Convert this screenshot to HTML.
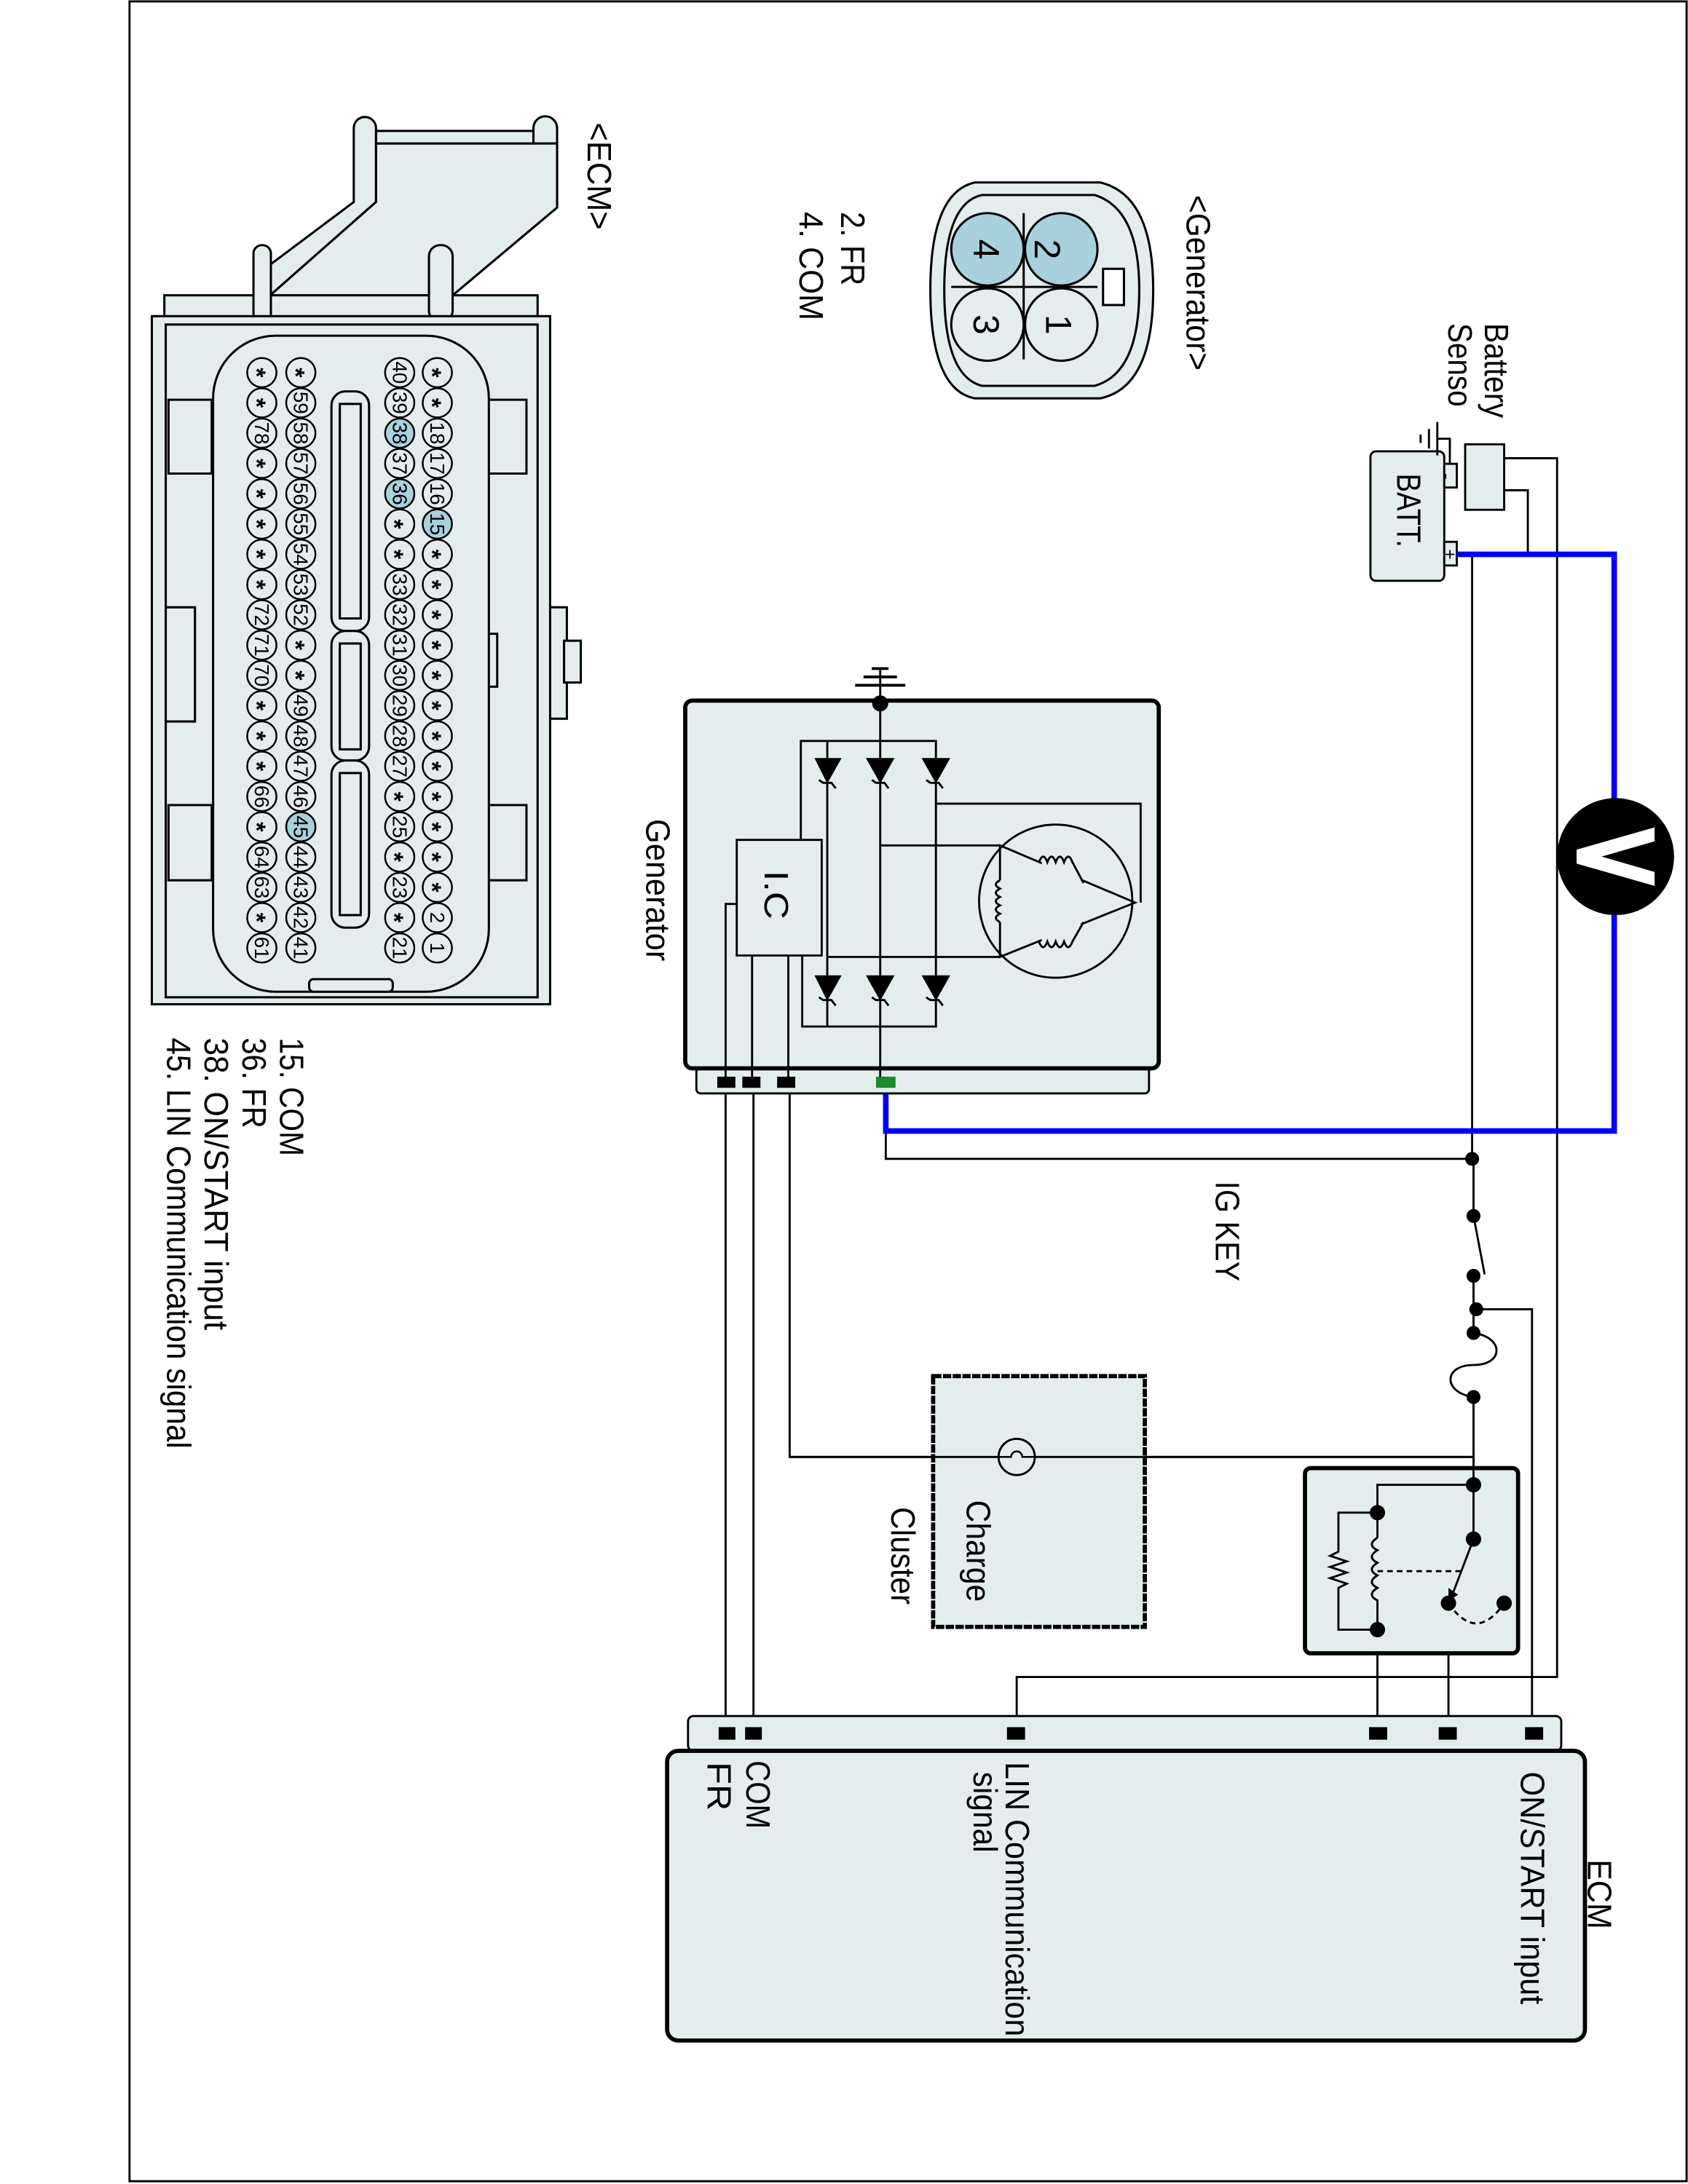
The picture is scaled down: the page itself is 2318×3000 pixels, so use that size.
<!DOCTYPE html>
<html><head><meta charset="utf-8"><style>
html,body{margin:0;padding:0;background:#fff}
svg{display:block}
text{font-family:"Liberation Sans",Arial,sans-serif;fill:#000}
.p circle{fill:#e4eded;stroke:#000;stroke-width:1.3}
.p.b circle{fill:#a9d1dc}
.p text{font-size:14.5px;text-anchor:middle;dominant-baseline:central}
.p text.s{font-size:18px;font-weight:bold}
.l{font-size:24px}
.w{fill:none;stroke:#000;stroke-width:1.5}
.d{fill:#000}
</style></head><body>
<svg width="2318" height="3000" viewBox="0 0 1212 1568" preserveAspectRatio="none" xmlns="http://www.w3.org/2000/svg">
<rect x="0" y="0" width="1212" height="1568" fill="#fff"/>
<rect x="93" y="1" width="1118" height="1565" fill="none" stroke="#000" stroke-width="1.5"/>

<!-- ECM connector drawing -->
<g stroke="#000" stroke-width="1.6" fill="#e4eded">
 <path d="M254 145 V92 a8 8 0 0 1 16 0 V145 L194 212 V190 Z"/>
 <path d="M383 149 V92 a8.5 8.5 0 0 1 17 0 V149 L325 212 V190 Z"/>
 <path d="M270 145 L194 212 H325 L400 149 V103 H270 Z"/>
 <rect x="270" y="94" width="113" height="9"/>
 <rect x="118" y="212" width="268" height="16"/>
 <rect x="182" y="176" width="12.5" height="55" rx="6"/>
 <rect x="308" y="176" width="17" height="55" rx="8"/>
 <rect x="395" y="436" width="12" height="80"/>
 <rect x="405" y="460" width="12" height="30"/>
 <rect x="109" y="227" width="286" height="494"/>
 <rect x="119" y="233" width="267" height="483"/>
 <path d="M121 287 H152 V340 H121 Z M121 578 H152 V632 H121 Z M346 287 H378 V340 H346 Z M346 578 H378 V632 H346 Z"/>
 <path d="M119 436 H140 V518 H119" fill="none"/>
 <rect x="345" y="455" width="12" height="38" fill="none"/>
 <rect x="153" y="241" width="198" height="471" rx="45"/>
 <rect x="222" y="703" width="60" height="9" rx="3"/>
 <rect x="238" y="281" width="27" height="172" rx="10"/>
 <rect x="238" y="453" width="27" height="93" rx="10"/>
 <rect x="238" y="546" width="27" height="120" rx="10"/>
 <rect x="244" y="290" width="15" height="154" fill="none"/>
 <rect x="244" y="462" width="15" height="76" fill="none"/>
 <rect x="244" y="555" width="15" height="102" fill="none"/>
</g>

<!-- pins column 1 x=314 -->
<g class="p" transform="translate(314 267.5) rotate(90)"><circle r="10.5"/><text class="s" dy="4">*</text></g>
<g class="p" transform="translate(314 289.2) rotate(90)"><circle r="10.5"/><text class="s" dy="4">*</text></g>
<g class="p" transform="translate(314 311) rotate(90)"><circle r="10.5"/><text>18</text></g>
<g class="p" transform="translate(314 332.7) rotate(90)"><circle r="10.5"/><text>17</text></g>
<g class="p" transform="translate(314 354.5) rotate(90)"><circle r="10.5"/><text>16</text></g>
<g class="p b" transform="translate(314 376.2) rotate(90)"><circle r="10.5"/><text>15</text></g>
<g class="p" transform="translate(314 397.9) rotate(90)"><circle r="10.5"/><text class="s" dy="4">*</text></g>
<g class="p" transform="translate(314 419.7) rotate(90)"><circle r="10.5"/><text class="s" dy="4">*</text></g>
<g class="p" transform="translate(314 441.4) rotate(90)"><circle r="10.5"/><text class="s" dy="4">*</text></g>
<g class="p" transform="translate(314 463.2) rotate(90)"><circle r="10.5"/><text class="s" dy="4">*</text></g>
<g class="p" transform="translate(314 484.9) rotate(90)"><circle r="10.5"/><text class="s" dy="4">*</text></g>
<g class="p" transform="translate(314 506.6) rotate(90)"><circle r="10.5"/><text class="s" dy="4">*</text></g>
<g class="p" transform="translate(314 528.4) rotate(90)"><circle r="10.5"/><text class="s" dy="4">*</text></g>
<g class="p" transform="translate(314 550.1) rotate(90)"><circle r="10.5"/><text class="s" dy="4">*</text></g>
<g class="p" transform="translate(314 571.9) rotate(90)"><circle r="10.5"/><text class="s" dy="4">*</text></g>
<g class="p" transform="translate(314 593.6) rotate(90)"><circle r="10.5"/><text class="s" dy="4">*</text></g>
<g class="p" transform="translate(314 615.3) rotate(90)"><circle r="10.5"/><text class="s" dy="4">*</text></g>
<g class="p" transform="translate(314 637.1) rotate(90)"><circle r="10.5"/><text class="s" dy="4">*</text></g>
<g class="p" transform="translate(314 658.8) rotate(90)"><circle r="10.5"/><text>2</text></g>
<g class="p" transform="translate(314 680.6) rotate(90)"><circle r="10.5"/><text>1</text></g>
<!-- column 2 x=287 -->
<g class="p" transform="translate(287 267.5) rotate(90)"><circle r="10.5"/><text>40</text></g>
<g class="p" transform="translate(287 289.2) rotate(90)"><circle r="10.5"/><text>39</text></g>
<g class="p b" transform="translate(287 311) rotate(90)"><circle r="10.5"/><text>38</text></g>
<g class="p" transform="translate(287 332.7) rotate(90)"><circle r="10.5"/><text>37</text></g>
<g class="p b" transform="translate(287 354.5) rotate(90)"><circle r="10.5"/><text>36</text></g>
<g class="p" transform="translate(287 376.2) rotate(90)"><circle r="10.5"/><text class="s" dy="4">*</text></g>
<g class="p" transform="translate(287 397.9) rotate(90)"><circle r="10.5"/><text class="s" dy="4">*</text></g>
<g class="p" transform="translate(287 419.7) rotate(90)"><circle r="10.5"/><text>33</text></g>
<g class="p" transform="translate(287 441.4) rotate(90)"><circle r="10.5"/><text>32</text></g>
<g class="p" transform="translate(287 463.2) rotate(90)"><circle r="10.5"/><text>31</text></g>
<g class="p" transform="translate(287 484.9) rotate(90)"><circle r="10.5"/><text>30</text></g>
<g class="p" transform="translate(287 506.6) rotate(90)"><circle r="10.5"/><text>29</text></g>
<g class="p" transform="translate(287 528.4) rotate(90)"><circle r="10.5"/><text>28</text></g>
<g class="p" transform="translate(287 550.1) rotate(90)"><circle r="10.5"/><text>27</text></g>
<g class="p" transform="translate(287 571.9) rotate(90)"><circle r="10.5"/><text class="s" dy="4">*</text></g>
<g class="p" transform="translate(287 593.6) rotate(90)"><circle r="10.5"/><text>25</text></g>
<g class="p" transform="translate(287 615.3) rotate(90)"><circle r="10.5"/><text class="s" dy="4">*</text></g>
<g class="p" transform="translate(287 637.1) rotate(90)"><circle r="10.5"/><text>23</text></g>
<g class="p" transform="translate(287 658.8) rotate(90)"><circle r="10.5"/><text class="s" dy="4">*</text></g>
<g class="p" transform="translate(287 680.6) rotate(90)"><circle r="10.5"/><text>21</text></g>
<!-- column 3 x=216 -->
<g class="p" transform="translate(216 267.5) rotate(90)"><circle r="10.5"/><text class="s" dy="4">*</text></g>
<g class="p" transform="translate(216 289.2) rotate(90)"><circle r="10.5"/><text>59</text></g>
<g class="p" transform="translate(216 311) rotate(90)"><circle r="10.5"/><text>58</text></g>
<g class="p" transform="translate(216 332.7) rotate(90)"><circle r="10.5"/><text>57</text></g>
<g class="p" transform="translate(216 354.5) rotate(90)"><circle r="10.5"/><text>56</text></g>
<g class="p" transform="translate(216 376.2) rotate(90)"><circle r="10.5"/><text>55</text></g>
<g class="p" transform="translate(216 397.9) rotate(90)"><circle r="10.5"/><text>54</text></g>
<g class="p" transform="translate(216 419.7) rotate(90)"><circle r="10.5"/><text>53</text></g>
<g class="p" transform="translate(216 441.4) rotate(90)"><circle r="10.5"/><text>52</text></g>
<g class="p" transform="translate(216 463.2) rotate(90)"><circle r="10.5"/><text class="s" dy="4">*</text></g>
<g class="p" transform="translate(216 484.9) rotate(90)"><circle r="10.5"/><text class="s" dy="4">*</text></g>
<g class="p" transform="translate(216 506.6) rotate(90)"><circle r="10.5"/><text>49</text></g>
<g class="p" transform="translate(216 528.4) rotate(90)"><circle r="10.5"/><text>48</text></g>
<g class="p" transform="translate(216 550.1) rotate(90)"><circle r="10.5"/><text>47</text></g>
<g class="p" transform="translate(216 571.9) rotate(90)"><circle r="10.5"/><text>46</text></g>
<g class="p b" transform="translate(216 593.6) rotate(90)"><circle r="10.5"/><text>45</text></g>
<g class="p" transform="translate(216 615.3) rotate(90)"><circle r="10.5"/><text>44</text></g>
<g class="p" transform="translate(216 637.1) rotate(90)"><circle r="10.5"/><text>43</text></g>
<g class="p" transform="translate(216 658.8) rotate(90)"><circle r="10.5"/><text>42</text></g>
<g class="p" transform="translate(216 680.6) rotate(90)"><circle r="10.5"/><text>41</text></g>
<!-- column 4 x=188 -->
<g class="p" transform="translate(188 267.5) rotate(90)"><circle r="10.5"/><text class="s" dy="4">*</text></g>
<g class="p" transform="translate(188 289.2) rotate(90)"><circle r="10.5"/><text class="s" dy="4">*</text></g>
<g class="p" transform="translate(188 311) rotate(90)"><circle r="10.5"/><text>78</text></g>
<g class="p" transform="translate(188 332.7) rotate(90)"><circle r="10.5"/><text class="s" dy="4">*</text></g>
<g class="p" transform="translate(188 354.5) rotate(90)"><circle r="10.5"/><text class="s" dy="4">*</text></g>
<g class="p" transform="translate(188 376.2) rotate(90)"><circle r="10.5"/><text class="s" dy="4">*</text></g>
<g class="p" transform="translate(188 397.9) rotate(90)"><circle r="10.5"/><text class="s" dy="4">*</text></g>
<g class="p" transform="translate(188 419.7) rotate(90)"><circle r="10.5"/><text class="s" dy="4">*</text></g>
<g class="p" transform="translate(188 441.4) rotate(90)"><circle r="10.5"/><text>72</text></g>
<g class="p" transform="translate(188 463.2) rotate(90)"><circle r="10.5"/><text>71</text></g>
<g class="p" transform="translate(188 484.9) rotate(90)"><circle r="10.5"/><text>70</text></g>
<g class="p" transform="translate(188 506.6) rotate(90)"><circle r="10.5"/><text class="s" dy="4">*</text></g>
<g class="p" transform="translate(188 528.4) rotate(90)"><circle r="10.5"/><text class="s" dy="4">*</text></g>
<g class="p" transform="translate(188 550.1) rotate(90)"><circle r="10.5"/><text class="s" dy="4">*</text></g>
<g class="p" transform="translate(188 571.9) rotate(90)"><circle r="10.5"/><text>66</text></g>
<g class="p" transform="translate(188 593.6) rotate(90)"><circle r="10.5"/><text class="s" dy="4">*</text></g>
<g class="p" transform="translate(188 615.3) rotate(90)"><circle r="10.5"/><text>64</text></g>
<g class="p" transform="translate(188 637.1) rotate(90)"><circle r="10.5"/><text>63</text></g>
<g class="p" transform="translate(188 658.8) rotate(90)"><circle r="10.5"/><text class="s" dy="4">*</text></g>
<g class="p" transform="translate(188 680.6) rotate(90)"><circle r="10.5"/><text>61</text></g>

<!-- Generator connector -->
<g stroke="#000" stroke-width="1.6">
 <path d="M700 131 H790 Q828 140 828 208 Q828 278 790 286 H700 Q668 280 668 208 Q668 138 700 131 Z" fill="#e4eded"/>
 <path d="M705 140 H786 Q818 150 818 208 Q818 268 786 277 H705 Q678 270 678 208 Q678 146 705 140 Z" fill="none"/>
 <rect x="792" y="193" width="15" height="26" fill="#fff"/>
 <line x1="683" y1="206" x2="788" y2="206"/>
 <line x1="735" y1="153" x2="735" y2="258"/>
 <circle cx="762" cy="179" r="26" fill="#a9d1dc"/>
 <circle cx="709" cy="179" r="26" fill="#a9d1dc"/>
 <circle cx="762" cy="233" r="26" fill="#e4eded"/>
 <circle cx="709" cy="233" r="26" fill="#e4eded"/>
</g>
<text class="l" transform="translate(752 179) rotate(90)" text-anchor="middle" dominant-baseline="central" style="font-size:26px">2</text>
<text class="l" transform="translate(708 179) rotate(90)" text-anchor="middle" dominant-baseline="central" style="font-size:26px">4</text>
<text class="l" transform="translate(760 233) rotate(90)" text-anchor="middle" dominant-baseline="central" style="font-size:26px">1</text>
<text class="l" transform="translate(708 233) rotate(90)" text-anchor="middle" dominant-baseline="central" style="font-size:26px">3</text>

<!-- Battery -->
<g stroke="#000" stroke-width="1.5">
 <rect x="984" y="324" width="53" height="93" rx="4" fill="#e4eded"/>
 <rect x="1037" y="333" width="9" height="17" fill="#e4eded"/>
 <rect x="1037" y="389" width="9" height="17" fill="#e4eded"/>
 <rect x="1052" y="319" width="28" height="47" fill="#e4eded"/>
 <path class="w" d="M1080 329 H1118 V1204 H730 V1240"/>
 <path class="w" d="M1080 352 H1097 V398"/>
 <path class="w" d="M1041 333 V315 H1032"/>
 <line x1="1032" y1="303" x2="1032" y2="327"/>
 <line x1="1026" y1="308" x2="1026" y2="322"/>
 <line x1="1020" y1="312" x2="1020" y2="318"/>
</g>
<text transform="translate(1039 342) rotate(90)" text-anchor="middle" dominant-baseline="central" style="font-size:14px">-</text>
<text transform="translate(1041 398) rotate(90)" text-anchor="middle" dominant-baseline="central" style="font-size:13px">+</text>

<!-- wires -->
<path class="w" d="M1057 398 V832"/>
<path class="w" d="M636 781 V832 H1058"/>
<path class="w" d="M1058 832 V873 L1066 915 M1058 916 V957 M1058 940 H1100 V1240"/>
<path class="w" d="M1058 957 C1080 960 1080 980 1058 980 C1036 980 1036 1000 1058 1003 V1105"/>
<path class="w" d="M567 778 V1046 H1058"/>
<path class="w" d="M521 778 V1240 M541 778 V1240"/>
<path class="w" d="M989 1170 V1240 M1040 1151 V1240"/>

<!-- Blue wire + voltmeter -->
<path d="M1046 398 H1159 V812 H636 V781" fill="none" stroke="#0000ff" stroke-width="4"/>
<circle cx="1160" cy="615" r="42" fill="#000"/>
<path d="M1188 594 L1188 604 L1150 615 L1188 626 L1188 636 L1132 620 L1132 610 Z" fill="#fff"/>

<!-- IG key dots -->
<g class="d">
 <circle cx="1057" cy="832" r="5"/><circle cx="1058" cy="873" r="5"/><circle cx="1058" cy="916" r="5"/>
 <circle cx="1060" cy="940" r="5"/><circle cx="1058" cy="957" r="5"/><circle cx="1058" cy="1003" r="5"/>
</g>

<!-- Generator -->
<rect x="500" y="766" width="325" height="19" rx="3" fill="#e4eded" stroke="#000" stroke-width="1.5"/>
<rect x="492" y="503" width="340" height="264" rx="5" fill="#e4eded" stroke="#000" stroke-width="3"/>
<g stroke="#000" stroke-width="1.5" fill="none">
 <line x1="632" y1="480" x2="632" y2="776"/>
 <line x1="614" y1="492" x2="650" y2="492" stroke-width="2"/>
 <line x1="620" y1="486" x2="644" y2="486" stroke-width="2"/>
 <line x1="626" y1="480" x2="638" y2="480" stroke-width="2"/>
 <path d="M575 603 V532 H672 V737 H576 V686"/>
 <line x1="594" y1="532" x2="594" y2="737"/>
 <path d="M672 577 H819 V648"/>
 <path d="M632 607 H718"/>
 <path d="M594 687 H718"/>
 <ellipse cx="758" cy="647" rx="55" ry="55"/>
 <path d="M718 607 L815 648 L718 687 Z"/>
 <path d="M521 776 V649 H529 M540 776 V686 M566 776 V686"/>
</g>
<rect x="748" y="617" width="28" height="20" fill="#e4eded"/>
<rect x="748" y="657" width="28" height="20" fill="#e4eded"/>
<rect x="712" y="632" width="12" height="30" fill="#e4eded"/>
<g fill="none" stroke="#000" stroke-width="1.5">
 <path d="M746 619 q3 -8 6 0 q3 -8 6 0 q3 -8 6 0 q3 -8 6 0 L778 634"/>
 <path d="M746 676 q3 8 6 0 q3 8 6 0 q3 8 6 0 q3 8 6 0 L778 662"/>
 <path d="M718 632 q-6 3 0 6 q-6 3 0 6 q-6 3 0 6 q-6 3 0 6 q-6 3 0 6"/>
</g>
<g fill="#000" stroke="#000" stroke-width="1.5">
 <path d="M586 545 H603 L594 561 Z"/><path d="M588 560 l3 2 h6 l3 4" fill="none"/>
 <path d="M623 545 H641 L632 561 Z"/><path d="M626 560 l3 2 h6 l3 4" fill="none"/>
 <path d="M663 545 H681 L672 561 Z"/><path d="M665 560 l3 2 h6 l3 4" fill="none"/>
 <path d="M586 701 H603 L594 717 Z"/><path d="M588 716 l3 2 h6 l3 4" fill="none"/>
 <path d="M623 701 H641 L632 717 Z"/><path d="M626 716 l3 2 h6 l3 4" fill="none"/>
 <path d="M663 701 H681 L672 717 Z"/><path d="M665 716 l3 2 h6 l3 4" fill="none"/>
 <circle cx="632" cy="505" r="5"/>
</g>
<rect x="529" y="603" width="61" height="83" fill="#e4eded" stroke="#000" stroke-width="1.5"/>
<rect x="515" y="773" width="13" height="8" fill="#000"/>
<rect x="533" y="773" width="13" height="8" fill="#000"/>
<rect x="558" y="773" width="13" height="8" fill="#000"/>
<rect x="629" y="773" width="14" height="8" fill="#1a8a2a"/>

<!-- Cluster -->
<rect x="670" y="988" width="152" height="180" fill="#e4eded" stroke="#000" stroke-width="3" stroke-dasharray="6 1"/>
<line x1="567" y1="1046" x2="1058" y2="1046" stroke="#000" stroke-width="1.5"/>
<circle cx="730" cy="1046" r="13" fill="#e4eded" stroke="#000" stroke-width="1.5"/>
<path d="M717 1046 H726 a4 4 0 0 1 8 0 H743" fill="none" stroke="#000" stroke-width="1.3"/>

<!-- Relay -->
<rect x="937" y="1054" width="153" height="133" rx="4" fill="#e4eded" stroke="#000" stroke-width="3"/>
<g fill="none" stroke="#000" stroke-width="1.5">
 <path d="M1058 1040 V1105"/>
 <path d="M1058 1066 H989 V1104"/>
 <path d="M989 1104 q-8 5 0 9 q-8 5 0 9 q-8 5 0 9 q-8 5 0 9 q-8 5 0 9 V1170"/>
 <path d="M989 1086 H961 V1114 l-6 3 l12 4 l-12 4 l12 4 l-12 4 l12 4 l-6 3 V1170 H989"/>
 <path d="M989 1128 H1049" stroke-dasharray="4 3"/>
 <path d="M1058 1105 L1042 1147"/>
 <path d="M1040 1151 Q1060 1180 1080 1151" stroke-dasharray="4 3"/>
</g>
<path d="M1040 1149 l0 -9 l7 5 z" fill="#000"/>
<g class="d">
 <circle cx="1058" cy="1066" r="5.5"/><circle cx="1058" cy="1105" r="5.5"/>
 <circle cx="1040" cy="1151" r="5.5"/><circle cx="1080" cy="1151" r="5.5"/>
 <circle cx="989" cy="1086" r="5.5"/><circle cx="989" cy="1170" r="5.5"/>
</g>

<!-- ECM block -->
<rect x="494" y="1232" width="627" height="25" rx="4" fill="#e4eded" stroke="#000" stroke-width="1.5"/>
<rect x="479" y="1257" width="659" height="208" rx="8" fill="#e4eded" stroke="#000" stroke-width="3"/>
<rect x="516" y="1240" width="12" height="9" fill="#000"/>
<rect x="535" y="1240" width="12" height="9" fill="#000"/>
<rect x="723" y="1240" width="13" height="9" fill="#000"/>
<rect x="983" y="1240" width="13" height="9" fill="#000"/>
<rect x="1033" y="1240" width="13" height="9" fill="#000"/>
<rect x="1095" y="1240" width="13" height="9" fill="#000"/>

<!-- Labels (rotated) -->
<text class="l" transform="translate(422 88) rotate(90)" textLength="77" lengthAdjust="spacingAndGlyphs">&lt;ECM&gt;</text>
<text class="l" transform="translate(852 140) rotate(90)" textLength="126" lengthAdjust="spacingAndGlyphs">&lt;Generator&gt;</text>
<text class="l" transform="translate(604 152) rotate(90)" textLength="53" lengthAdjust="spacingAndGlyphs">2. FR</text>
<text class="l" transform="translate(574 152) rotate(90)" textLength="78" lengthAdjust="spacingAndGlyphs">4. COM</text>
<text class="l" transform="translate(1066 232) rotate(90)" textLength="68" lengthAdjust="spacingAndGlyphs">Battery</text>
<text class="l" transform="translate(1040 232) rotate(90)" textLength="60" lengthAdjust="spacingAndGlyphs">Senso</text>
<text class="l" transform="translate(1003 340) rotate(90)" textLength="53" lengthAdjust="spacingAndGlyphs">BATT.</text>
<text class="l" transform="translate(464 588) rotate(90)" textLength="102" lengthAdjust="spacingAndGlyphs">Generator</text>
<text class="l" transform="translate(549 625) rotate(90)" textLength="35" lengthAdjust="spacingAndGlyphs">I.C</text>
<text class="l" transform="translate(201 745) rotate(90)" textLength="85" lengthAdjust="spacingAndGlyphs">15. COM</text>
<text class="l" transform="translate(174 745) rotate(90)" textLength="65" lengthAdjust="spacingAndGlyphs">36. FR</text>
<text class="l" transform="translate(147 745) rotate(90)" textLength="210" lengthAdjust="spacingAndGlyphs">38.  ON/START input</text>
<text class="l" transform="translate(120 745) rotate(90)" textLength="295" lengthAdjust="spacingAndGlyphs">45. LIN Communication signal</text>
<text class="l" transform="translate(873 848) rotate(90)" textLength="72" lengthAdjust="spacingAndGlyphs">IG KEY</text>
<text class="l" transform="translate(694 1077) rotate(90)" textLength="73" lengthAdjust="spacingAndGlyphs">Charge</text>
<text class="l" transform="translate(640 1082) rotate(90)" textLength="70" lengthAdjust="spacingAndGlyphs">Cluster</text>
<text class="l" transform="translate(1140 1335) rotate(90)" textLength="50" lengthAdjust="spacingAndGlyphs">ECM</text>
<text class="l" transform="translate(1092 1272) rotate(90)" textLength="167" lengthAdjust="spacingAndGlyphs">ON/START input</text>
<text class="l" transform="translate(722 1265) rotate(90)" textLength="197" lengthAdjust="spacingAndGlyphs">LIN Communication</text>
<text class="l" transform="translate(699 1272) rotate(90)" textLength="58" lengthAdjust="spacingAndGlyphs">signal</text>
<text class="l" transform="translate(536 1264) rotate(90)" textLength="49" lengthAdjust="spacingAndGlyphs">COM</text>
<text class="l" transform="translate(508 1265) rotate(90)" textLength="35" lengthAdjust="spacingAndGlyphs">FR</text>
</svg>
</body></html>
